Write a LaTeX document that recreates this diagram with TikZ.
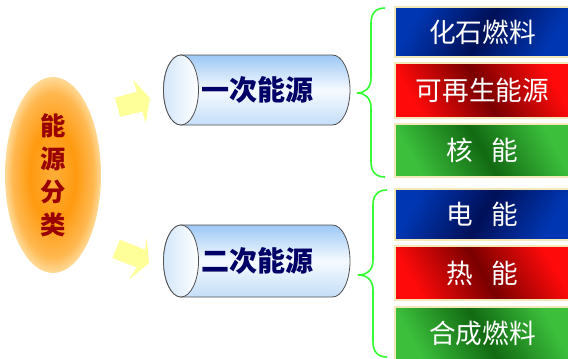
\documentclass[tikz,border=0pt]{standalone}
\usepackage{fontspec}
\setmainfont{Noto Sans CJK SC}
\usetikzlibrary{shapes.geometric}
\definecolor{arrowY}{HTML}{FFFF99}
\definecolor{braceG}{HTML}{33FF33}
\definecolor{cylTop}{HTML}{9CC8F5}
\definecolor{cylMid}{HTML}{F6FAFF}
\definecolor{cylBot}{HTML}{C4DEF8}
\definecolor{cylLine}{HTML}{505050}
\definecolor{navyT}{HTML}{000066}
\definecolor{redT}{HTML}{990000}
\definecolor{boxLine}{HTML}{F2E8B8}
\definecolor{blueA}{HTML}{0036B2}
\definecolor{blueB}{HTML}{001058}
\definecolor{redA}{HTML}{FF0A0A}
\definecolor{redB}{HTML}{7A0000}
\definecolor{greenA}{HTML}{3CC03C}
\definecolor{greenB}{HTML}{126A12}
\definecolor{orA}{HTML}{FFAE3A}
\definecolor{orB}{HTML}{FF9A10}
\definecolor{orC}{HTML}{FFB850}
\definecolor{orD}{HTML}{FFDA98}
\pgfdeclareradialshading{orangeglow}{\pgfpoint{0bp}{0bp}}{color(0bp)=(orA); color(12bp)=(orB); color(21bp)=(orC); color(25bp)=(orD); color(50bp)=(orD)}
\tikzset{
  catbox/.style={rectangle, draw=boxLine, line width=1.1pt, minimum width=131.25pt,
    inner sep=0pt, text=white, font=\fontsize{20pt}{24pt}\selectfont},
  bluebox/.style={catbox, top color=blueA, bottom color=blueA, middle color=blueB, shading angle=60},
  redbox/.style={catbox, top color=redA, bottom color=redA, middle color=redB, shading angle=120},
  greenbox/.style={catbox, top color=greenA, bottom color=greenA, middle color=greenB, shading angle=120},
  cylbody/.style={draw=cylLine, line width=0.6pt, top color=cylTop, bottom color=cylBot, middle color=cylMid},
  cylface/.style={draw=cylLine, line width=0.6pt, left color=cylTop!45, right color=white},
  cyltext/.style={text=navyT, font=\fontsize{21pt}{24pt}\selectfont\bfseries, inner sep=0pt},
  bracepath/.style={draw=braceG, line width=1.2pt},
  blockarrow/.style={fill=arrowY}
}
\begin{document}
\begin{tikzpicture}[x=0.75pt,y=0.75pt]
\useasboundingbox (0,0) rectangle (568,358);
\clip (0,0) rectangle (568,358);
% main ellipse
\node[ellipse, shading=orangeglow, minimum width=72pt, minimum height=147pt, inner sep=0pt,
  text=redT, align=center, font=\fontsize{19pt}{24.75pt}\selectfont\bfseries] (cat) at (53,183) {能\\源\\分\\类};
% block arrows
\fill[blockarrow] (115,260.3) -- (120,241.3) -- (142.3,246.3) -- (145.7,235.3) -- (150,259.7) -- (133.3,278) -- (136.7,266.3) -- cycle;
\fill[blockarrow] (120,118.3) -- (112.3,100) -- (136.7,90.7) -- (129,78.3) -- (149,95) -- (146.7,120) -- (145,108.3) -- cycle;
% cylinder 1
\path[cylbody] (181,303) -- (332.5,303) arc[start angle=90, end angle=-90, x radius=17.5, y radius=35] -- (181,233) arc[start angle=270, end angle=90, x radius=17.5, y radius=35] -- cycle;
\path[cylface] (181,268) ellipse [x radius=17.5, y radius=35];
\node[cyltext] (prim) at (257,268) {一次能源};
% cylinder 2
\path[cylbody] (181,133) -- (332.5,133) arc[start angle=90, end angle=-90, x radius=17.5, y radius=36] -- (181,61) arc[start angle=270, end angle=90, x radius=17.5, y radius=36] -- cycle;
\path[cylface] (181,97) ellipse [x radius=17.5, y radius=36];
\node[cyltext] (sec) at (257,97) {二次能源};
% braces
\path[bracepath] (385,350) .. controls (376,350) and (371,345) .. (371,335) -- (371,280) .. controls (371,270) and (365,265) .. (357,265) .. controls (365,265) and (371,260) .. (371,250) -- (371,196) .. controls (371,186) and (376,181) .. (385,181);
\path[bracepath] (387,168) .. controls (378,168) and (373,163) .. (373,153) -- (373,98) .. controls (373,88) and (367,83) .. (358,83) .. controls (367,83) and (373,78) .. (373,68) -- (373,16) .. controls (373,6) and (378,1) .. (387,1);
% boxes
\node[bluebox, minimum height=37.5pt] (b1) at (482.5,326) {化石燃料};
\node[redbox, minimum height=41.25pt] (b2) at (482.5,267.5) {可再生能源};
\node[greenbox, minimum height=39.75pt] (b3) at (482.5,207.5) {核\hspace{0.7em}能};
\node[bluebox, minimum height=38.25pt] (b4) at (482.5,143.5) {电\hspace{0.7em}能};
\node[redbox, minimum height=40.5pt] (b5) at (482.5,85) {热\hspace{0.7em}能};
\node[greenbox, minimum height=39.75pt] (b6) at (482.5,24.5) {合成燃料};
\end{tikzpicture}
\end{document}
